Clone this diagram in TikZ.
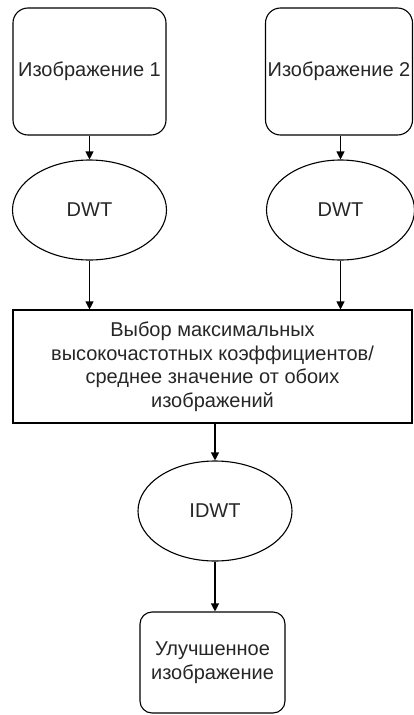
\documentclass[tikz,border=0pt]{standalone}
\usepackage{fontspec}
\setmainfont{Liberation Sans}
\usetikzlibrary{shapes.geometric,arrows.meta}
\begin{document}
\begin{tikzpicture}[x=1pt,y=-1pt,
  every node/.style={font=\fontsize{20}{23.5}\selectfont, text=black!85, inner sep=0pt, align=center},
  rbox/.style={draw, line width=1.1pt, rounded corners=15pt},
  ell/.style={draw, ellipse, line width=1.1pt},
  pbox/.style={draw, line width=1.1pt},
  conn/.style={line width=1.1pt, -{Triangle[length=8pt,width=8pt]}}]
\useasboundingbox (0,0) rectangle (413,715);
\node[rbox, minimum width=153pt, minimum height=127pt] (b1) at (89.5,71.5) {Изображение 1};
\node[rbox, minimum width=147pt, minimum height=127pt] (b2) at (339,71.5) {Изображение 2};
\node[ell, minimum width=154pt, minimum height=100pt] (e1) at (89.5,210) {DWT};
\node[ell, minimum width=148pt, minimum height=100pt] (e2) at (340.5,210) {DWT};
\node[pbox, minimum width=399pt, minimum height=113pt] (big) at (212.5,366.5) {Выбор максимальных\\высокочастотных коэффициентов/\\среднее значение от обоих\\изображений};
\node[ell, minimum width=154pt, minimum height=100pt] (idwt) at (215,511) {IDWT};
\node[rbox, rounded corners=12pt, minimum width=145pt, minimum height=101pt] (res) at (212.5,662.5) {Улучшенное\\изображение};
\draw[conn] (e1.north |- b1.south) -- (e1.north);
\draw[conn] (e2.north |- b2.south) -- (e2.north);
\draw[conn] (e1.south) -- (e1.south |- big.north);
\draw[conn] (e2.south) -- (e2.south |- big.north);
\draw[conn] (idwt.north |- big.south) -- (idwt.north);
\draw[conn] (idwt.south) -- (idwt.south |- res.north);
\end{tikzpicture}
\end{document}
